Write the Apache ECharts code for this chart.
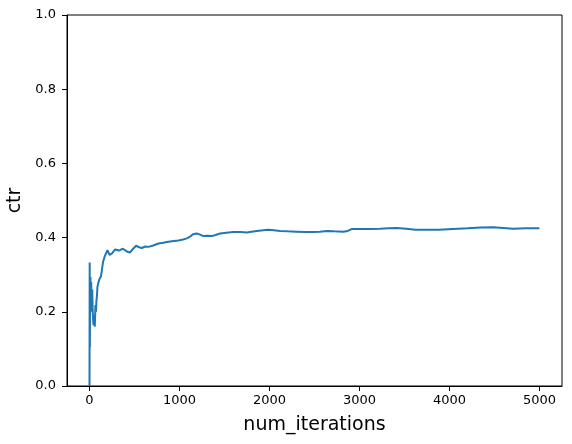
<!DOCTYPE html>
<html>
<head>
<meta charset="utf-8">
<script src="https://cdn.jsdelivr.net/npm/echarts@6/dist/echarts.min.js"></script>
<style>html,body{margin:0;padding:0;background:#fff}#c{width:572px;height:444px}</style>
</head>
<body>
<div id="c"></div>
<script>
const iterations = [0, 2, 4, 7, 10, 12, 15, 19, 24, 30, 36, 44, 52, 59, 66, 72, 77, 82, 88, 100, 114, 128, 140, 151, 160, 170, 185, 200, 211, 225, 248, 262, 285, 304, 330, 348, 370, 392, 420, 452, 485, 518, 550, 581, 620, 655, 700, 766, 820, 859, 915, 988, 1040, 1081, 1120, 1150, 1190, 1229, 1265, 1310, 1358, 1400, 1451, 1520, 1599, 1680, 1747, 1800, 1858, 1930, 1987, 2050, 2117, 2200, 2302, 2400, 2486, 2560, 2635, 2720, 2819, 2870, 2912, 3000, 3115, 3226, 3320, 3412, 3520, 3620, 3745, 3880, 4040, 4200, 4350, 4484, 4600, 4706, 4850, 4999];
const ctr = [0, 0.333, 0.105, 0.25, 0.294, 0.27, 0.2, 0.28, 0.21, 0.26, 0.2, 0.164, 0.19, 0.16, 0.218, 0.2, 0.23, 0.24, 0.267, 0.28, 0.29, 0.296, 0.30, 0.335, 0.339, 0.35, 0.345, 0.366, 0.36, 0.353, 0.357, 0.36, 0.368, 0.373, 0.365, 0.366, 0.37, 0.368, 0.362, 0.36, 0.37, 0.378, 0.374, 0.372, 0.376, 0.375, 0.378, 0.384, 0.386, 0.388, 0.39, 0.392, 0.395, 0.398, 0.403, 0.409, 0.411, 0.408, 0.404, 0.405, 0.404, 0.407, 0.411, 0.413, 0.415, 0.415, 0.414, 0.416, 0.418, 0.42, 0.421, 0.42, 0.418, 0.417, 0.416, 0.415, 0.415, 0.416, 0.418, 0.417, 0.416, 0.418, 0.423, 0.423, 0.423, 0.424, 0.425, 0.426, 0.424, 0.421, 0.421, 0.421, 0.423, 0.425, 0.427, 0.428, 0.426, 0.424, 0.425, 0.425];
const xTicks = [0, 1000, 2000, 3000, 4000, 5000];
const yTicks = [0, 0.2, 0.4, 0.6, 0.8, 1.0];

const chart = echarts.init(document.getElementById('c'), null, {renderer: 'canvas'});
const font = 'DejaVu Sans';
chart.setOption({
  animation: false,
  grid: {left: 67, right: 10, top: 15, bottom: 58, outerBoundsMode: 'none', containLabel: false, show: true, borderColor: '#000', borderWidth: 1, backgroundColor: 'transparent'},
  xAxis: {
    type: 'value', min: -250, max: 5250,
    name: 'num_iterations', nameLocation: 'middle', nameGap: 30,
    nameTextStyle: {fontFamily: font, fontSize: 19, color: '#000'},
    axisLine: {show: true, onZero: false, lineStyle: {color: '#000', width: 1}},
    axisTick: {show: true, length: 5, lineStyle: {color: '#000'}, customValues: xTicks},
    axisLabel: {fontFamily: font, fontSize: 13, color: '#000', margin: 8, customValues: xTicks, formatter: v => String(v)},
    splitLine: {show: false}
  },
  yAxis: {
    type: 'value', min: 0, max: 1, interval: 0.2,
    name: 'ctr', nameLocation: 'middle', nameGap: 28,
    nameTextStyle: {fontFamily: font, fontSize: 19, color: '#000'},
    axisLine: {show: true, onZero: false, lineStyle: {color: '#000', width: 1}},
    axisTick: {show: true, length: 5, lineStyle: {color: '#000'}, customValues: yTicks},
    axisLabel: {fontFamily: font, fontSize: 13, color: '#000', margin: 11, customValues: yTicks, formatter: v => v.toFixed(1)},
    splitLine: {show: false}
  },
  series: [{
    type: 'line',
    data: iterations.map((x, i) => [x, ctr[i]]),
    showSymbol: false,
    lineStyle: {color: '#1f77b4', width: 2},
    itemStyle: {color: '#1f77b4'}
  }]
});
</script>
</body>
</html>
